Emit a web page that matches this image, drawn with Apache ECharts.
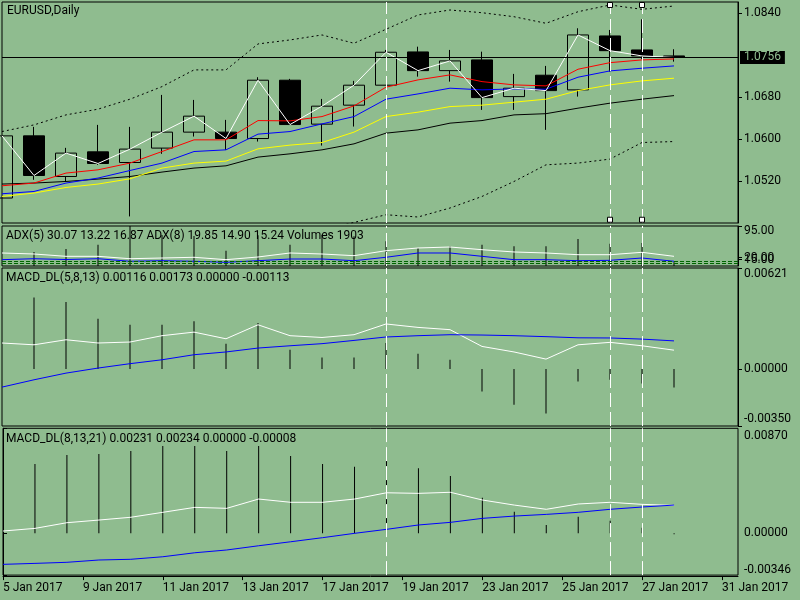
<!DOCTYPE html>
<html>
<head>
<meta charset="utf-8">
<title>EURUSD,Daily</title>
<script src="https://cdn.jsdelivr.net/npm/echarts@6/dist/echarts.min.js"></script>
<style>
html, body { margin: 0; padding: 0; background: #8fbc8f; }
#chart { width: 800px; height: 600px; }
</style>
</head>
<body>
<div id="chart"></div>
<script>
// bar slots: 22 daily bars plus 2 empty ones to the right
var bars = [];
for (var n = 0; n < 24; n++) bars.push(String(n));

var dateTicks = [0, 2.5, 5, 7.5, 10, 12.5, 15, 17.5, 20, 22.5];
var dateLabels = ['5 Jan 2017', '9 Jan 2017', '11 Jan 2017', '13 Jan 2017', '17 Jan 2017',
    '19 Jan 2017', '23 Jan 2017', '25 Jan 2017', '27 Jan 2017', '31 Jan 2017'];

// price bars
var openP  = [1.04885, 1.06068, 1.05295, 1.05764, 1.05561, 1.05835, 1.06139, 1.06139, 1.06017, 1.07127, 1.06291,
              1.06652, 1.07032, 1.07665, 1.07309, 1.07513, 1.06815, 1.07222, 1.06943, 1.07969, 1.07703, 1.07589];
var closeP = [1.06068, 1.05314, 1.05740, 1.05542, 1.05816, 1.06139, 1.06443, 1.06017, 1.07127, 1.06283, 1.06633,
              1.07032, 1.07659, 1.07309, 1.07494, 1.06796, 1.06975, 1.06929, 1.07988, 1.07689, 1.07589, 1.07560];
var lowP   = [1.04885, 1.05232, 1.05200, 1.05517, 1.04535, 1.05726, 1.06055, 1.05802, 1.05960, 1.06283, 1.05884,
              1.06245, 1.07032, 1.07195, 1.07100, 1.06562, 1.06562, 1.06182, 1.06815, 1.07290, 1.07532, 1.07480];
var highP  = [1.06068, 1.06239, 1.05840, 1.06277, 1.06239, 1.06847, 1.06752, 1.06372, 1.07184, 1.07152, 1.06771,
              1.07114, 1.07703, 1.07765, 1.07703, 1.07670, 1.07247, 1.07399, 1.08115, 1.08083, 1.08286, 1.07716];

// moving averages and bands
var maRed    = [1.05118, 1.05170, 1.05360, 1.05422, 1.05550, 1.05770, 1.05992, 1.05992, 1.06359, 1.06353, 1.06435,
                1.06638, 1.06994, 1.07133, 1.07228, 1.07100, 1.07038, 1.07019, 1.07336, 1.07461, 1.07513, 1.07532];
var maBlue   = [1.04966, 1.05010, 1.05170, 1.05265, 1.05409, 1.05550, 1.05770, 1.05802, 1.06101, 1.06150, 1.06296,
                1.06435, 1.06766, 1.06866, 1.06975, 1.06943, 1.06962, 1.06956, 1.07184, 1.07304, 1.07355, 1.07399];
var maYellow = [1.04915, 1.04980, 1.05086, 1.05151, 1.05251, 1.05455, 1.05550, 1.05588, 1.05821, 1.05892, 1.05941,
                1.06139, 1.06435, 1.06519, 1.06625, 1.06652, 1.06709, 1.06766, 1.06929, 1.07038, 1.07114, 1.07165];
var maBlack  = [1.05151, 1.05170, 1.05200, 1.05246, 1.05295, 1.05379, 1.05455, 1.05498, 1.05664, 1.05726, 1.05802,
                1.05916, 1.06120, 1.06182, 1.06310, 1.06359, 1.06467, 1.06490, 1.06595, 1.06690, 1.06766, 1.06834];
var bandUpper = [1.06150, 1.06277, 1.06467, 1.06576, 1.06766, 1.07005, 1.07323, 1.07323, 1.07817, 1.07893, 1.07988,
                 1.07830, 1.08096, 1.08368, 1.08463, 1.08411, 1.08335, 1.08210, 1.08430, 1.08558, 1.08476, 1.08539];
var bandLower = [null, null, null, null, null, null, null, null, null, null, 1.04280,
                 1.04421, 1.04567, 1.04524, 1.04695, 1.04915, 1.05200, 1.05517, 1.05550, 1.05626, 1.05941, 1.05960];

var priceTicks = [1.0840, 1.0680, 1.0600, 1.0520];
var lastPrice = 1.0756;
var markerBars = [12, 19, 20];
var selectedBars = [19, 20];
var selectedEnds = [1.08558, 1.04472];

// ADX / volumes window
var adxWhite = [30.9, 28.5, 23.0, 23.0, 17.3, 19.0, 20.7, 15.0, 21.4, 30.9, 28.5,
                24.5, 36.3, 42.8, 45.1, 38.7, 33.3, 30.9, 26.8, 26.8, 32.5, 23.0];
var adxBlue  = [15.0, 17.3, 15.4, 17.3, 11.2, 12.6, 11.2, 8.8, 12.6, 16.6, 16.6,
                12.6, 20.7, 30.9, 30.9, 23.0, 15.0, 15.0, 12.6, 13.5, 19.0, 11.2];
var volumes  = [null, 7000, 8500, 10650, 20000, 15500, 15000, 7650, 15350, 10650, 15650,
                14850, 12350, 9000, 9850, 10650, 9850, 9850, 13500, 11150, 11500, 1903];
var adxLevels = [11, 6.5];
var adxTicks = [95, 20, 15, 10];

// MACD_DL(5,8,13)
var macd1Main   = [0.00160, 0.00149, 0.00180, 0.00160, 0.00166, 0.00205, 0.00227, 0.00186, 0.00272, 0.00205, 0.00194,
                   0.00211, 0.00277, 0.00256, 0.00242, 0.00139, 0.00105, 0.00061, 0.00149, 0.00164, 0.00143, 0.00116];
var macd1Signal = [-0.00111, -0.00066, -0.00025, 0.00006, 0.00033, 0.00057, 0.00088, 0.00105, 0.00129, 0.00143, 0.00156,
                   0.00176, 0.00197, 0.00205, 0.00211, 0.00209, 0.00205, 0.00199, 0.00192, 0.00191, 0.00184, 0.00173];
var macd1Hist   = [null, 0.00440, 0.00412, 0.00309, 0.00272, 0.00272, 0.00293, 0.00156, 0.00283, 0.00119, 0.00071,
                   0.00071, 0.00160, 0.00094, 0.00057, -0.00138, -0.00220, -0.00273, -0.00076, -0.00066, -0.00089, -0.00113];
var macd1Ticks = [0.00621, 0, -0.00350];

// MACD_DL(8,13,21)
var macd2Main   = [0.00019, 0.00041, 0.00088, 0.00110, 0.00133, 0.00174, 0.00215, 0.00207, 0.00284, 0.00257, 0.00257,
                   0.00284, 0.00336, 0.00331, 0.00340, 0.00276, 0.00234, 0.00199, 0.00243, 0.00257, 0.00240, 0.00231];
var macd2Signal = [-0.00257, -0.00249, -0.00240, -0.00221, -0.00215, -0.00194, -0.00161, -0.00138, -0.00103, -0.00070, -0.00036,
                   0.00000, 0.00033, 0.00069, 0.00091, 0.00124, 0.00143, 0.00157, 0.00174, 0.00199, 0.00218, 0.00234];
var macd2Hist   = [null, 0.00574, 0.00649, 0.00657, 0.00682, 0.00723, 0.00723, 0.00682, 0.00723, 0.00640, 0.00574,
                   0.00552, 0.00602, 0.00539, 0.00475, 0.00295, 0.00179, 0.00069, 0.00138, 0.00104, 0.00046, -0.00008];
var macd2Ticks = [0.00870, 0, -0.00346];

var bg = '#8fbc8f';
var font = 'Roboto';

var ohlc = openP.map(function (o, i) {
    return [o, closeP[i], lowP[i], highP[i]];
});

function rightAxis(grid, min, max, ticks, digits, topPad, bottomPad) {
    var first = ticks[0], last = ticks[ticks.length - 1];
    return {
        type: 'value', gridIndex: grid, position: 'right', min: min, max: max,
        axisLine: { show: true, lineStyle: { color: '#000', width: 1 } },
        axisTick: { show: true, customValues: ticks, length: 4, lineStyle: { color: '#000' } },
        splitLine: { show: false },
        axisLabel: {
            customValues: ticks, margin: 6,
            fontFamily: font, fontSize: 12, color: '#000',
            formatter: function (v) {
                var s = v.toFixed(digits);
                if (topPad && Math.abs(v - first) < 1e-9) return '{t|' + s + '}';
                if (bottomPad && Math.abs(v - last) < 1e-9) return '{b|' + s + '}';
                return s;
            },
            rich: {
                t: { fontFamily: font, fontSize: 12, color: '#000', padding: [topPad || 0, 0, 0, 0] },
                b: { fontFamily: font, fontSize: 12, color: '#000', padding: [0, 0, bottomPad || 0, 0] }
            }
        }
    };
}

function vLines() {
    return {
        silent: true, symbol: ['none', 'none'], label: { show: false },
        lineStyle: { color: '#fff', type: [14, 5], width: 1 },
        data: markerBars.map(function (b) { return { xAxis: b }; })
    };
}

function line(name, xi, yi, data, color, extra) {
    var s = {
        name: name, type: 'line', xAxisIndex: xi, yAxisIndex: yi, data: data,
        symbol: 'none', lineStyle: { color: color, width: 1 }, z: 3
    };
    for (var k in extra) s[k] = extra[k];
    return s;
}

function hist(name, xi, yi, data) {
    return {
        name: name, type: 'bar', xAxisIndex: xi, yAxisIndex: yi, data: data,
        barWidth: 1, itemStyle: { color: '#000' }, z: 2
    };
}

var gridStyle = { show: true, borderColor: '#000', borderWidth: 1, left: 2, width: 736 };
function grid(top, height) {
    var g = { top: top, height: height };
    for (var k in gridStyle) g[k] = gridStyle[k];
    return g;
}

var option = {
    backgroundColor: bg,
    animation: false,
    title: [
        { text: 'EURUSD,Daily', left: 7, top: 5 },
        { text: 'ADX(5) 30.07 13.22 16.87 ADX(8) 19.85 14.90 15.24 Volumes 1903', left: 6, top: 230 },
        { text: 'MACD_DL(5,8,13) 0.00116 0.00173 0.00000 -0.00113', left: 6, top: 272 },
        { text: 'MACD_DL(8,13,21) 0.00231 0.00234 0.00000 -0.00008', left: 6, top: 433 }
    ].map(function (t) {
        t.padding = 0;
        t.textStyle = { fontFamily: font, fontSize: 12, fontWeight: 'normal', color: '#000' };
        return t;
    }),
    grid: [grid(2, 221), grid(226, 40), grid(268, 158), grid(428.3, 146.8)],
    xAxis: [0, 1, 2, 3].map(function (g) {
        return { type: 'category', gridIndex: g, data: bars, boundaryGap: false, show: false,
                 position: g === 3 ? 'top' : 'bottom' };
    }).concat([{
        type: 'value', gridIndex: 3, min: 0, max: 23, position: 'bottom', offset: 1,
        axisLine: { show: true, lineStyle: { color: '#000', width: 1 } },
        axisTick: { show: true, customValues: dateTicks, length: 4, lineStyle: { color: '#000' } },
        splitLine: { show: false },
        axisLabel: {
            customValues: dateTicks, align: 'left', margin: 6,
            fontFamily: font, fontSize: 12, color: '#000',
            formatter: function (v) {
                for (var i = 0; i < dateTicks.length; i++) {
                    if (Math.abs(dateTicks[i] - v) < 1e-6) return dateLabels[i];
                }
                return '';
            }
        }
    }]),
    yAxis: [
        rightAxis(0, 1.04410, 1.08615, priceTicks, 4, 0, 0),
        rightAxis(1, 0, 95, adxTicks, 2, 9, 0),
        { type: 'value', gridIndex: 1, min: 0, max: 20000, show: false, splitLine: { show: false } },
        rightAxis(2, -0.00350, 0.00621, macd1Ticks, 5, 12, 14),
        rightAxis(3, -0.00346, 0.00870, macd2Ticks, 5, 15, 10)
    ],
    series: [
        {
            name: 'EURUSD', type: 'candlestick', xAxisIndex: 0, yAxisIndex: 0, data: ohlc,
            barWidth: 22, clip: false, z: 2,
            itemStyle: { color: 'rgba(0,0,0,0)', color0: '#000', borderColor: '#000', borderColor0: '#000', borderWidth: 1 }
        },
        line('Upper band', 0, 0, bandUpper, '#000', { lineStyle: { color: '#000', width: 1, type: [2, 3] } }),
        line('Lower band', 0, 0, bandLower, '#000', { lineStyle: { color: '#000', width: 1, type: [2, 3] } }),
        line('MA black', 0, 0, maBlack, '#000', {
            // current price line with its box on the price scale
            markLine: {
                silent: true, symbol: ['none', 'none'], precision: 5,
                lineStyle: { color: '#000', type: 'solid', width: 1 },
                label: {
                    show: true, position: 'end', distance: 2, formatter: lastPrice.toFixed(4),
                    backgroundColor: '#000', color: bg, padding: [1, 4, 0, 4],
                    fontFamily: font, fontSize: 12
                },
                data: [{ yAxis: lastPrice }]
            }
        }),
        line('MA yellow', 0, 0, maYellow, '#ffff00'),
        line('MA blue', 0, 0, maBlue, '#0000ff'),
        line('MA red', 0, 0, maRed, '#ff0000'),
        line('Close', 0, 0, closeP, '#ffffff', {
            markLine: vLines(),
            markPoint: {
                silent: true, symbol: 'rect', symbolSize: 5, label: { show: false },
                itemStyle: { color: '#fff', borderColor: '#000', borderWidth: 1 },
                data: [].concat.apply([], selectedBars.map(function (b) {
                    return selectedEnds.map(function (p) { return { coord: [b, p] }; });
                }))
            }
        }),

        hist('Volumes', 1, 2, volumes),
        line('ADX(5)', 1, 1, adxWhite, '#ffffff', {
            markLine: vLines()
        }),
        line('ADX(8)', 1, 1, adxBlue, '#0000ff', {
            markLine: {
                silent: true, symbol: ['none', 'none'], label: { show: false }, precision: 2,
                lineStyle: { color: '#006400', type: [4, 2], width: 1 },
                data: adxLevels.map(function (v) { return { yAxis: v }; })
            }
        }),

        hist('MACD_DL(5,8,13) hist', 2, 3, macd1Hist),
        line('MACD_DL(5,8,13)', 2, 3, macd1Main, '#ffffff', { markLine: vLines() }),
        line('MACD_DL(5,8,13) signal', 2, 3, macd1Signal, '#0000ff'),

        hist('MACD_DL(8,13,21) hist', 3, 4, macd2Hist),
        line('MACD_DL(8,13,21)', 3, 4, macd2Main, '#ffffff', { markLine: vLines() }),
        line('MACD_DL(8,13,21) signal', 3, 4, macd2Signal, '#0000ff')
    ]
};

var chart = echarts.init(document.getElementById('chart'));
chart.setOption(option);
</script>
</body>
</html>
